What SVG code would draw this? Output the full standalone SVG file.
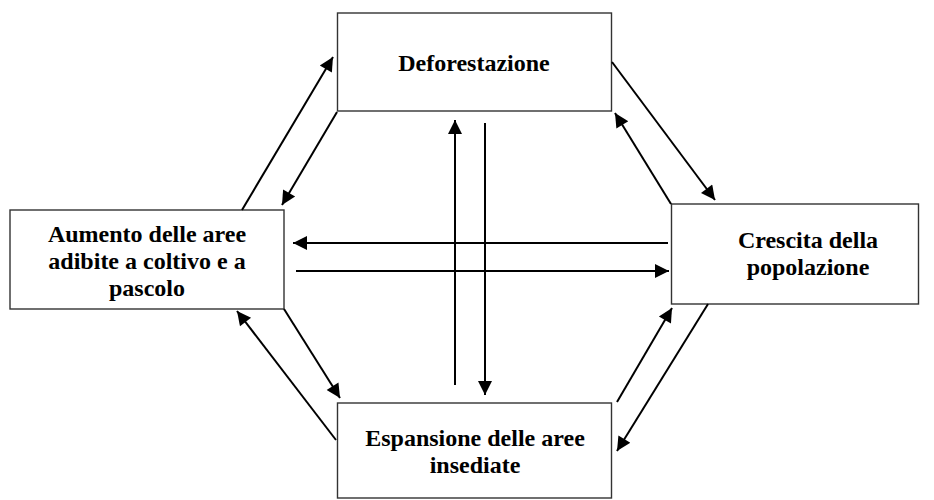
<svg xmlns="http://www.w3.org/2000/svg" width="934" height="500" viewBox="0 0 934 500">
<style>
.box{fill:#fff;stroke:#333;stroke-width:1.4}
.lbl{font-family:"Liberation Serif","Times New Roman",serif;font-weight:bold;font-size:24px;fill:#000;text-anchor:middle}
.arr{stroke:#000;stroke-width:2;fill:none;marker-end:url(#ah)}
</style>
<defs>
<marker id="ah" viewBox="0 0 10 10" refX="10" refY="5" markerUnits="userSpaceOnUse" markerWidth="17" markerHeight="14" orient="auto">
<path d="M0,0 L10,5 L0,10 z" fill="#000"/>
</marker>
</defs>
<rect width="934" height="500" fill="#fff"/>
<g id="node-deforestazione">
<rect class="box" x="337.5" y="13" width="274" height="98"/>
<text class="lbl" x="474" y="71">Deforestazione</text>
</g>
<g id="node-aumento">
<rect class="box" x="10" y="210" width="274" height="99"/>
<text class="lbl" x="147" y="242">Aumento delle aree</text>
<text class="lbl" x="147" y="269">adibite a coltivo e a</text>
<text class="lbl" x="147" y="296">pascolo</text>
</g>
<g id="node-crescita">
<rect class="box" x="671.5" y="204" width="247" height="100"/>
<text class="lbl" x="808" y="248">Crescita della</text>
<text class="lbl" x="808" y="275">popolazione</text>
</g>
<g id="node-espansione">
<rect class="box" x="337.5" y="403" width="274" height="95"/>
<text class="lbl" x="475" y="446">Espansione delle aree</text>
<text class="lbl" x="475" y="473">insediate</text>
</g>
<g id="connectors">
<line class="arr" x1="242" y1="210" x2="333" y2="57"/>
<line class="arr" x1="337" y1="112" x2="282" y2="205"/>
<line class="arr" x1="612" y1="62" x2="715" y2="200"/>
<line class="arr" x1="671" y1="204" x2="615" y2="113"/>
<line class="arr" x1="668" y1="243" x2="293" y2="243"/>
<line class="arr" x1="296" y1="271" x2="669" y2="271"/>
<line class="arr" x1="455" y1="385" x2="455" y2="120"/>
<line class="arr" x1="485" y1="123" x2="485" y2="395"/>
<line class="arr" x1="284" y1="309" x2="340" y2="398"/>
<line class="arr" x1="336" y1="440" x2="237" y2="311"/>
<line class="arr" x1="617" y1="402" x2="672" y2="308"/>
<line class="arr" x1="708" y1="304" x2="617" y2="451"/>
</g>
</svg>
